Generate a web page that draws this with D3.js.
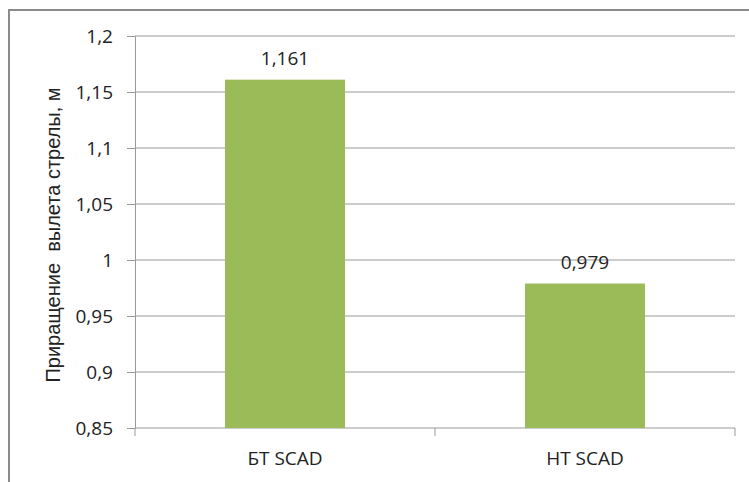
<!DOCTYPE html>
<html>
<head>
<meta charset="utf-8">
<script src="https://cdn.jsdelivr.net/npm/d3@7"></script>
<style>
  body { margin: 0; background: #fff; }
  text { font-family: "Open Sans", sans-serif; fill: #222; }
</style>
</head>
<body>
<div id="viz"></div>
<script>
var categories = ["БТ SCAD", "НТ SCAD"];
var values = [1.161, 0.979];
var labels = ["1,161", "0,979"];
var yTicks = [0.85, 0.9, 0.95, 1, 1.05, 1.1, 1.15, 1.2];

var width = 749,
    height = 482,
    margin = {top: 36, right: 14, bottom: 54, left: 135};

var svg = d3.select('#viz')
  .append("svg")
  .attr("width", width)
  .attr("height", height);

// outer chart frame (only top and left edges visible)
svg.append("path")
  .attr("d", "M9,482 V10 H749")
  .attr("fill", "none")
  .attr("stroke", "#8a8a8a")
  .attr("stroke-width", 2);

var g = svg.append("g")
  .attr("transform", `translate(${margin.left},${margin.top})`);

var innerW = width - margin.left - margin.right,
    innerH = height - margin.top - margin.bottom;

var xScale = d3.scaleBand().domain(categories).range([0, innerW])
  .paddingInner(0.6).paddingOuter(0.3);
var xCat = d3.scaleBand().domain(categories).range([0, innerW]);
var yScale = d3.scaleLinear().domain([0.85, 1.2]).range([innerH, 0]);

var fmt = d => String(d).replace('.', ',');

// gridlines
g.selectAll(".grid")
  .data(yTicks.slice(1))
  .enter().append("line")
  .attr("x1", 0).attr("x2", innerW)
  .attr("y1", d => yScale(d)).attr("y2", d => yScale(d))
  .attr("stroke", "#999").attr("stroke-width", 1);

// Y Axis
var yAxis = d3.axisLeft(yScale).tickValues(yTicks).tickFormat(fmt).tickSize(8).tickPadding(14).tickSizeOuter(0);
var ya = g.append("g").call(yAxis);
ya.select(".domain").attr("stroke", "#999");
ya.selectAll(".tick line").attr("stroke", "#999");
ya.selectAll(".tick text").attr("font-size", 19).attr("fill", "#222")
  .style("font-family", "'Open Sans', sans-serif");

// X Axis
var xa = g.append("g").attr("transform", `translate(0,${innerH})`);
xa.append("line").attr("x1", 0).attr("x2", innerW).attr("stroke", "#999");
xa.selectAll(".sep")
  .data([0].concat(categories.map(c => xCat(c) + xCat.bandwidth())))
  .enter().append("line")
  .attr("x1", d => d).attr("x2", d => d)
  .attr("y1", 0).attr("y2", 8)
  .attr("stroke", "#999");
xa.selectAll(".cat")
  .data(categories)
  .enter().append("text")
  .attr("x", d => xCat(d) + xCat.bandwidth() / 2)
  .attr("y", 37)
  .attr("text-anchor", "middle")
  .attr("font-size", 19)
  .text(d => d);

/* bars */
g.selectAll(".bar")
  .data(values)
  .enter().append("rect")
  .attr("class", "bar")
  .attr("x", (d, i) => xScale(categories[i]))
  .attr("y", d => yScale(d))
  .attr("width", xScale.bandwidth())
  .attr("height", d => innerH - yScale(d))
  .attr("fill", "#9bbb59");

// value labels
g.selectAll(".lbl")
  .data(values)
  .enter().append("text")
  .attr("x", (d, i) => xScale(categories[i]) + xScale.bandwidth() / 2)
  .attr("y", d => yScale(d) - 15)
  .attr("text-anchor", "middle")
  .attr("font-size", 19)
  .text((d, i) => labels[i]);

// axis title
svg.append("text")
  .attr("transform", "translate(60,235) rotate(-90)")
  .attr("text-anchor", "middle")
  .attr("font-size", 20)
  .style("font-family", "Arial, 'Liberation Sans', sans-serif")
  .style("white-space", "pre")
  .text("Приращение  вылета стрелы, м");
</script>
</body>
</html>
